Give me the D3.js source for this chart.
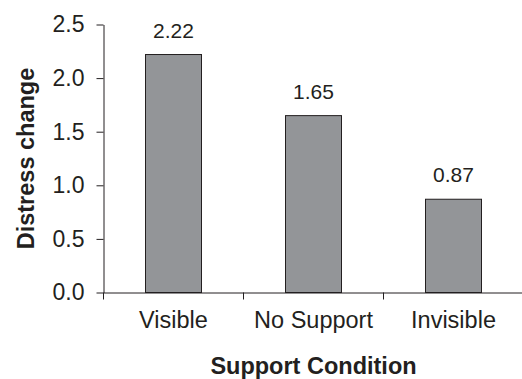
<!DOCTYPE html>
<html>
<head>
<meta charset="utf-8">
<script src="https://cdn.jsdelivr.net/npm/d3@7/dist/d3.min.js"></script>
<style>
  html, body { margin: 0; padding: 0; background: #fff; }
  svg { display: block; font-family: "Liberation Sans", Arial, Helvetica, sans-serif; }
</style>
</head>
<body>
<svg id="chart" width="522" height="379"></svg>
<script>
const categories = ["Visible", "No Support", "Invisible"];
const values = [2.22, 1.65, 0.87];
const valueLabels = ["2.22", "1.65", "0.87"];
const yTicks = [0.0, 0.5, 1.0, 1.5, 2.0, 2.5];
const yTitle = "Distress change";
const xTitle = "Support Condition";

const ink = "#231f20";
const svg = d3.select("#chart");

const x = d3.scaleBand().domain(categories).range([103.5, 523.5])
  .paddingInner(0.6).paddingOuter(0.3);
const y = d3.scaleLinear().domain([0, 2.5]).range([292.5, 24.5]);

// bars
svg.append("g").selectAll("rect").data(values).join("rect")
  .attr("x", (d, i) => x(categories[i]))
  .attr("y", d => y(d))
  .attr("width", x.bandwidth())
  .attr("height", d => y(0) - y(d))
  .attr("fill", "#939598")
  .attr("stroke", ink)
  .attr("stroke-width", 1);

// value labels
svg.append("g").selectAll("text").data(values).join("text")
  .attr("x", (d, i) => x(categories[i]) + x.bandwidth() / 2)
  .attr("y", d => y(d) - 17)
  .attr("text-anchor", "middle")
  .attr("fill", ink)
  .style("font-size", "21px")
  .text((d, i) => valueLabels[i]);

// y axis
const yAxis = svg.append("g").attr("transform", "translate(103.5,0)")
  .call(d3.axisLeft(y).tickValues(yTicks).tickFormat(d3.format(".1f"))
    .tickSize(7).tickSizeOuter(0).tickPadding(12));
yAxis.selectAll("path, line").attr("stroke", ink);
yAxis.selectAll("text").attr("fill", ink).style("font-size", "23px")
  .style("font-family", "'Liberation Sans', Arial, sans-serif");

// x axis
const xAxis = svg.append("g").attr("transform", "translate(0,292.5)")
  .call(d3.axisBottom(x).tickSize(0).tickSizeOuter(0).tickPadding(19));
xAxis.selectAll("path").attr("stroke", ink);
xAxis.selectAll("text").attr("fill", ink).style("font-size", "23.5px")
  .style("font-family", "'Liberation Sans', Arial, sans-serif");
// boundary ticks
const gap = (x.step() - x.bandwidth()) / 2;
const bounds = categories.map(c => x(c) - gap).concat([x(categories[categories.length - 1]) + x.bandwidth() + gap]);
xAxis.selectAll("line.bt").data(bounds).join("line")
  .attr("class", "bt")
  .attr("x1", d => d).attr("x2", d => d)
  .attr("y1", 0).attr("y2", 7)
  .attr("stroke", ink);

// titles
svg.append("text")
  .attr("transform", "translate(33.5," + ((y(0) + y(2.5)) / 2 + 0) + ") rotate(-90)")
  .attr("text-anchor", "middle")
  .attr("fill", ink)
  .style("font-size", "23.5px").style("font-weight", "bold")
  .text(yTitle);

svg.append("text")
  .attr("x", (x.range()[0] + x.range()[1]) / 2)
  .attr("y", 374)
  .attr("text-anchor", "middle")
  .attr("fill", ink)
  .style("font-size", "23.5px").style("font-weight", "bold")
  .text(xTitle);
</script>
</body>
</html>
